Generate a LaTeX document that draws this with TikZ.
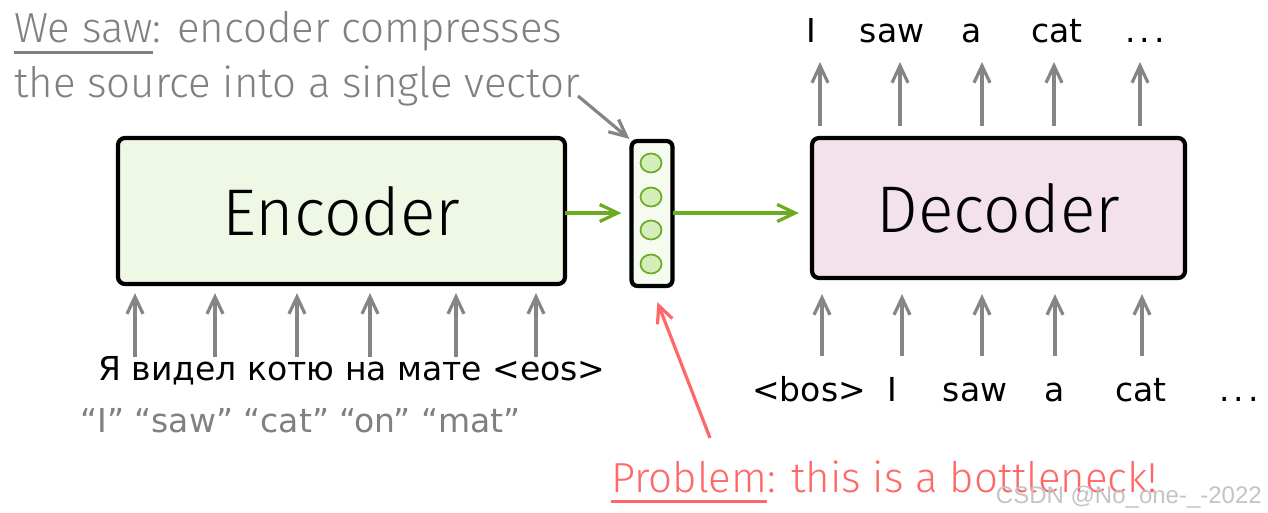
\documentclass[tikz,border=0pt]{standalone}
\usepackage{fontspec}
\setmainfont{Fira Sans}[UprightFont=* Light]
\newfontfamily\tokfont{DejaVu Sans}
\newfontfamily\wmfont{Liberation Sans}
\usetikzlibrary{arrows.meta,calc,shapes.geometric}
\definecolor{txtgray}{HTML}{808080}
\definecolor{arrgray}{HTML}{858585}
\definecolor{encfill}{HTML}{EFF8E4}
\definecolor{vecfill}{HTML}{F5FBEF}
\definecolor{decfill}{HTML}{F3E1EB}
\definecolor{dotfill}{HTML}{D4EDBB}
\definecolor{green}{HTML}{6AAB1F}
\definecolor{probred}{HTML}{FF6868}
\definecolor{wmgray}{HTML}{C4C4C4}
\newcommand\myul[1]{\setbox0\hbox{#1}\rlap{\rule[-11pt]{\wd0}{3pt}}\box0}
\newcommand\tdots{.\kern0.12em.\kern0.12em.}
\begin{document}
\begin{tikzpicture}[x=1pt,y=-1pt,
  box/.style={draw=black, line width=4.2pt, rounded corners=7pt, inner sep=0pt,
    font=\fontsize{66}{72}\selectfont},
  vecbox/.style={draw=black, line width=4.2pt, rounded corners=6pt, inner sep=0pt,
    fill=vecfill, minimum width=41pt, minimum height=145pt},
  dot/.style={ellipse, draw=green, line width=1.7pt, fill=dotfill, inner sep=0pt,
    minimum width=21pt, minimum height=19pt},
  grayarr/.style={draw=arrgray, line width=3.2pt,
    -{Straight Barb[length=17pt,width=16pt,line width=3.2pt]}},
  greenarr/.style={draw=green, line width=3.2pt,
    -{Straight Barb[length=18pt,width=17pt,line width=3.2pt]}},
  redarr/.style={draw=probred, line width=3.2pt,
    -{Straight Barb[length=17pt,width=16pt,line width=3.2pt]}},
  tok/.style={inner sep=0pt, anchor=base, font=\tokfont\fontsize{33}{36}\selectfont},
  note/.style={inner sep=0pt, anchor=base west, font=\fontsize{42}{46}\selectfont},
]
\useasboundingbox (0,0) rectangle (1268,513);

% --- boxes
\node[box, fill=encfill, minimum width=447pt, minimum height=146pt] (enc) at (341.5,211) {Encoder};
\node[box, fill=decfill, minimum width=373pt, minimum height=140pt] (dec) at (998.5,208) {Decoder};
\node[vecbox] (vec) at (652,213.5) {};
\foreach \i/\y in {1/163,2/197,3/230,4/264}
  \node[dot] (d\i) at (651,\y) {};

% --- green arrows
\coordinate (g1) at (565,213);
\draw[greenarr] (g1) -- (g1 -| vec.west) [shorten >=8pt];
\coordinate (g2) at (673,213);
\draw[greenarr] (g2) -- (g2 -| dec.west) [shorten >=11pt];

% --- top note
\node[note, text=txtgray] (n1) at (14,43) {\myul{We saw}: encoder compresses};
\node[note, text=txtgray] (n2) at (14,98) {the source into a single vector};
\coordinate (n2tip) at (578,96);
\draw[grayarr] (n2tip) -- (vec.north west);

% --- encoder inputs
\foreach \i/\x in {1/135,2/215,3/297,4/370,5/456,6/536}{
  \coordinate (ea\i) at (\x,357);
  \draw[grayarr] (ea\i) -- (ea\i |- enc.south) [shorten >=7pt];
}
\node[tok] (src) at (352,380) {Я видел котю на мате <eos>};
\node[tok, text=txtgray, anchor=base west] (gloss) at (80,432) {“I” “saw” “cat” “on” “mat”};

% --- decoder outputs
\foreach \i/\x/\w in {1/811/I,2/892/saw,3/972/a,4/1057/cat,5/1145/\tdots}
  \node[tok] (out\i) at (\x,43) {\w};
\foreach \i/\x in {1/820,2/900,3/982,4/1054,5/1140}{
  \coordinate (oa\i) at (\x,126);
  \draw[grayarr] (oa\i) -- (\x,62);
}
% --- decoder inputs
\foreach \i/\x/\w in {1/809/<bos>,2/892/I,3/975/saw,4/1055/a,5/1141/cat,6/1239/\tdots}
  \node[tok] (in\i) at (\x,401) {\w};
\foreach \i/\x in {1/822,2/902,3/982,4/1055,5/1142}{
  \coordinate (ia\i) at (\x,356);
  \draw[grayarr] (ia\i) -- (ia\i |- dec.south) [shorten >=14pt];
}

% --- problem note
\node[note, text=probred] (prob) at (611,492) {\myul{Problem}: this is a bottleneck!};
\coordinate (ptail) at (710,438);
\draw[redarr] (ptail) -- (vec.south) [shorten >=15pt];

% --- watermark
\node[inner sep=0pt, anchor=base east, text=wmgray, font=\wmfont\fontsize{24}{26}\selectfont] (wm) at (1262,503) {CSDN @No\_one-\_-2022};
\end{tikzpicture}
\end{document}
